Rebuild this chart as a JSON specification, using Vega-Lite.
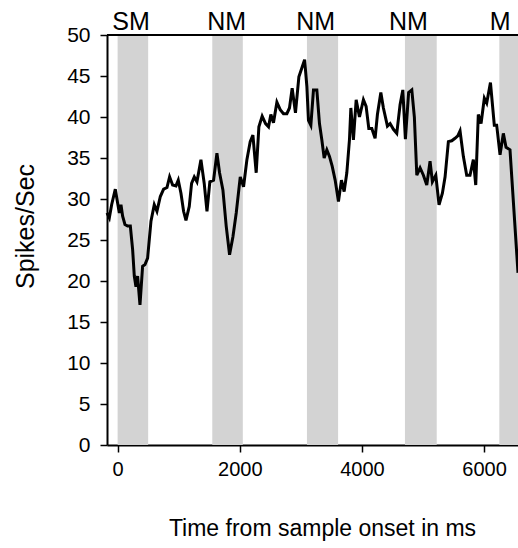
{
  "$schema": "https://vega.github.io/schema/vega-lite/v6.json",
  "width": 411,
  "height": 410,
  "autosize": "none",
  "padding": {"left": 107, "top": 35, "right": 0, "bottom": 103},
  "background": "white",
  "config": {
    "view": {"stroke": null},
    "font": "Liberation Sans",
    "axis": {
      "domainColor": "black", "domainWidth": 2,
      "tickColor": "black", "tickWidth": 1.5, "tickSize": 7,
      "labelColor": "black", "titleColor": "black", "grid": false,
      "labelFont": "Liberation Sans", "titleFont": "Liberation Sans",
      "titleFontWeight": "normal"
    }
  },
  "layer": [
    {
      "data": {"values": [
        {"t": 0, "t2": 500},
        {"t": 1550, "t2": 2050},
        {"t": 3100, "t2": 3610},
        {"t": 4705, "t2": 5225},
        {"t": 6250, "t2": 6600}
      ]},
      "mark": {"type": "rect", "color": "#d3d3d3", "clip": true},
      "encoding": {
        "x": {"field": "t", "type": "quantitative",
              "scale": {"domain": [-174, 6556], "nice": false, "zero": false},
              "axis": {"values": [0, 2000, 4000, 6000], "format": "d", "labelFontSize": 20, "labelPadding": 7,
                       "title": "Time from sample onset in ms", "titleFontSize": 23, "titlePadding": 38, "titleX": 215}},
        "x2": {"field": "t2"}
      }
    },
    {
      "data": {"values": [
        {"t": -174, "r": 28.3}, {"t": -136, "r": 27.7}, {"t": -98, "r": 29.3}, {"t": -38, "r": 31.2},
        {"t": 0, "r": 29.5}, {"t": 28, "r": 28.3}, {"t": 55, "r": 29.3}, {"t": 82, "r": 27.9},
        {"t": 120, "r": 26.9}, {"t": 164, "r": 26.7}, {"t": 208, "r": 26.7}, {"t": 246, "r": 23.8},
        {"t": 273, "r": 20.6}, {"t": 300, "r": 19.3}, {"t": 327, "r": 20.6}, {"t": 366, "r": 17.1},
        {"t": 409, "r": 21.8}, {"t": 448, "r": 22.0}, {"t": 491, "r": 22.8}, {"t": 546, "r": 27.3},
        {"t": 600, "r": 29.3}, {"t": 644, "r": 28.5}, {"t": 699, "r": 30.3}, {"t": 753, "r": 31.2},
        {"t": 808, "r": 31.4}, {"t": 851, "r": 32.7}, {"t": 900, "r": 31.7}, {"t": 955, "r": 31.6},
        {"t": 993, "r": 32.3}, {"t": 1037, "r": 30.7}, {"t": 1080, "r": 28.5}, {"t": 1119, "r": 27.4},
        {"t": 1173, "r": 29.1}, {"t": 1211, "r": 31.9}, {"t": 1255, "r": 32.7}, {"t": 1299, "r": 32.1},
        {"t": 1364, "r": 34.8}, {"t": 1418, "r": 31.9}, {"t": 1463, "r": 28.5}, {"t": 1510, "r": 32.1},
        {"t": 1571, "r": 32.3}, {"t": 1626, "r": 35.6}, {"t": 1669, "r": 33.2}, {"t": 1724, "r": 31.1},
        {"t": 1778, "r": 26.7}, {"t": 1833, "r": 23.2}, {"t": 1888, "r": 25.4}, {"t": 1942, "r": 28.3},
        {"t": 2008, "r": 32.7}, {"t": 2062, "r": 31.5}, {"t": 2117, "r": 34.8}, {"t": 2171, "r": 37.0},
        {"t": 2215, "r": 37.8}, {"t": 2269, "r": 33.2}, {"t": 2313, "r": 38.8}, {"t": 2367, "r": 40.1},
        {"t": 2422, "r": 39.2}, {"t": 2471, "r": 38.8}, {"t": 2509, "r": 40.3}, {"t": 2552, "r": 39.3},
        {"t": 2608, "r": 41.8}, {"t": 2662, "r": 40.9}, {"t": 2716, "r": 40.4}, {"t": 2771, "r": 40.4},
        {"t": 2814, "r": 41.1}, {"t": 2858, "r": 43.5}, {"t": 2912, "r": 40.5}, {"t": 2968, "r": 44.9},
        {"t": 3022, "r": 46.1}, {"t": 3062, "r": 47.0}, {"t": 3099, "r": 43.7}, {"t": 3125, "r": 39.6},
        {"t": 3164, "r": 39.0}, {"t": 3207, "r": 43.3}, {"t": 3262, "r": 43.3}, {"t": 3305, "r": 39.2},
        {"t": 3344, "r": 37.2}, {"t": 3382, "r": 35.0}, {"t": 3426, "r": 36.0}, {"t": 3469, "r": 35.2},
        {"t": 3513, "r": 34.0}, {"t": 3562, "r": 32.3}, {"t": 3616, "r": 29.7}, {"t": 3665, "r": 32.3},
        {"t": 3709, "r": 30.9}, {"t": 3753, "r": 33.2}, {"t": 3796, "r": 37.2}, {"t": 3819, "r": 41.1},
        {"t": 3861, "r": 37.2}, {"t": 3906, "r": 42.1}, {"t": 3960, "r": 40.0}, {"t": 4025, "r": 42.1},
        {"t": 4069, "r": 41.3}, {"t": 4113, "r": 38.6}, {"t": 4162, "r": 38.6}, {"t": 4216, "r": 37.4},
        {"t": 4254, "r": 40.3}, {"t": 4310, "r": 43.0}, {"t": 4352, "r": 41.1}, {"t": 4418, "r": 38.9},
        {"t": 4462, "r": 39.2}, {"t": 4516, "r": 38.5}, {"t": 4571, "r": 38.0}, {"t": 4625, "r": 41.5},
        {"t": 4670, "r": 43.3}, {"t": 4712, "r": 37.3}, {"t": 4765, "r": 43.0}, {"t": 4817, "r": 43.3},
        {"t": 4859, "r": 40.0}, {"t": 4899, "r": 32.9}, {"t": 4953, "r": 33.8}, {"t": 5007, "r": 32.9},
        {"t": 5062, "r": 31.7}, {"t": 5116, "r": 34.6}, {"t": 5154, "r": 32.1}, {"t": 5210, "r": 32.9},
        {"t": 5263, "r": 29.3}, {"t": 5318, "r": 30.7}, {"t": 5362, "r": 32.7}, {"t": 5416, "r": 37.0},
        {"t": 5471, "r": 37.1}, {"t": 5525, "r": 37.4}, {"t": 5570, "r": 37.7}, {"t": 5607, "r": 38.3},
        {"t": 5661, "r": 35.2}, {"t": 5716, "r": 32.9}, {"t": 5770, "r": 32.9}, {"t": 5825, "r": 34.8},
        {"t": 5864, "r": 31.7}, {"t": 5906, "r": 40.3}, {"t": 5951, "r": 39.2}, {"t": 6005, "r": 42.3},
        {"t": 6044, "r": 41.7}, {"t": 6105, "r": 44.2}, {"t": 6168, "r": 39.0}, {"t": 6207, "r": 39.0},
        {"t": 6262, "r": 35.4}, {"t": 6316, "r": 38.0}, {"t": 6360, "r": 36.3}, {"t": 6425, "r": 36.0},
        {"t": 6556, "r": 21.0}
      ]},
      "mark": {"type": "line", "color": "black", "strokeWidth": 3, "strokeJoin": "miter"},
      "encoding": {
        "x": {"field": "t", "type": "quantitative",
              "scale": {"domain": [-174, 6556], "nice": false, "zero": false},
              "axis": {"values": [0, 2000, 4000, 6000], "format": "d", "labelFontSize": 20, "labelPadding": 7,
                       "title": "Time from sample onset in ms", "titleFontSize": 23, "titlePadding": 38, "titleX": 215}},
        "y": {"field": "r", "type": "quantitative",
              "scale": {"domain": [0, 50], "nice": false},
              "axis": {"values": [0, 5, 10, 15, 20, 25, 30, 35, 40, 45, 50], "labelFontSize": 21, "labelPadding": 10,
                       "title": "Spikes/Sec", "titleFontSize": 25, "titlePadding": 28, "titleY": 191}}
      }
    },
    {
      "data": {"values": [{"top": 50}]},
      "mark": {"type": "rule", "color": "black", "strokeWidth": 2},
      "encoding": {"y": {"field": "top", "type": "quantitative"}}
    },
    {
      "data": {"values": [
        {"t": 220, "lab": "SM", "ly": 50.6},
        {"t": 1785, "lab": "NM", "ly": 50.6},
        {"t": 3243, "lab": "NM", "ly": 50.6},
        {"t": 4760, "lab": "NM", "ly": 50.6},
        {"t": 6262, "lab": "M", "ly": 50.6}
      ]},
      "mark": {"type": "text", "fontSize": 25, "color": "black", "baseline": "alphabetic", "align": "center", "font": "Liberation Sans"},
      "encoding": {
        "x": {"field": "t", "type": "quantitative"},
        "y": {"field": "ly", "type": "quantitative"},
        "text": {"field": "lab"}
      }
    }
  ]
}
